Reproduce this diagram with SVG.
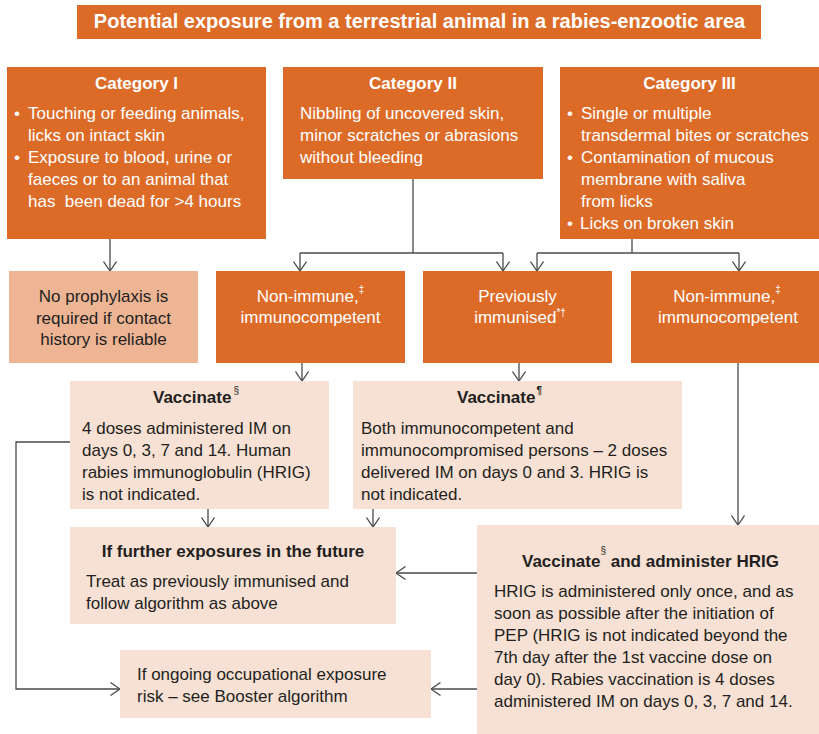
<svg xmlns="http://www.w3.org/2000/svg" width="819" height="734" viewBox="0 0 819 734">
<defs>
<style>
text{font-family:"Liberation Sans",Arial,sans-serif;font-size:17px;}
.o{fill:#DD6B28;}
.p{fill:#F7E1D4;}
.np{fill:#EEB595;}
.w{fill:#ffffff;}
.d{fill:#231F20;}
.b{font-weight:bold;}
.c{text-anchor:middle;}
.sup{font-size:10px;}
.conn path{fill:none;stroke:#4a4a4a;stroke-width:1.3;}
</style>
<marker id="ah" viewBox="0 0 10 14" markerWidth="10" markerHeight="14" refX="10" refY="7" orient="auto" markerUnits="userSpaceOnUse">
<path d="M0.5,0.5 L10,7 L0.5,13.5" fill="none" stroke="#4a4a4a" stroke-width="1.3"/>
</marker>
</defs>
<rect width="819" height="734" fill="#ffffff"/>

<g id="title">
<rect class="o" x="77" y="5" width="684" height="34"/>
<text class="w b c" x="419.5" y="28" style="font-size:20px">Potential exposure from a terrestrial animal in a rabies-enzootic area</text>
</g>

<g id="cat1">
<rect class="o" x="7" y="67" width="259" height="172"/>
<text class="w b c" x="136.5" y="89">Category I</text>
<text class="w" x="14" y="119">•</text>
<text class="w" x="28" y="119">Touching or feeding animals,</text>
<text class="w" x="28" y="141">licks on intact skin</text>
<text class="w" x="14" y="163">•</text>
<text class="w" x="28" y="163">Exposure to blood, urine or</text>
<text class="w" x="28" y="185">faeces or to an animal that</text>
<text class="w" x="28" y="207" xml:space="preserve">has  been dead for &gt;4 hours</text>
</g>

<g id="cat2">
<rect class="o" x="283" y="67" width="260" height="112"/>
<text class="w b c" x="413" y="89">Category II</text>
<text class="w" x="300" y="119">Nibbling of uncovered skin,</text>
<text class="w" x="300" y="141">minor scratches or abrasions</text>
<text class="w" x="300" y="163">without bleeding</text>
</g>

<g id="cat3">
<rect class="o" x="560" y="67" width="259" height="172"/>
<text class="w b c" x="689.5" y="89">Category III</text>
<text class="w" x="567" y="119">•</text>
<text class="w" x="581" y="119">Single or multiple</text>
<text class="w" x="581" y="141">transdermal bites or scratches</text>
<text class="w" x="567" y="163">•</text>
<text class="w" x="581" y="163">Contamination of mucous</text>
<text class="w" x="581" y="185">membrane with saliva</text>
<text class="w" x="581" y="207">from licks</text>
<text class="w" x="567" y="229">•</text>
<text class="w" x="580" y="229">Licks on broken skin</text>
</g>

<g id="noproph">
<rect class="np" x="9" y="271" width="189" height="92"/>
<text class="d c" x="103.5" y="302">No prophylaxis is</text>
<text class="d c" x="103.5" y="323.5">required if contact</text>
<text class="d c" x="103.5" y="345">history is reliable</text>
</g>

<g id="nonimmune1">
<rect class="o" x="216" y="271" width="189" height="92"/>
<text class="w c" x="310.5" y="302">Non-immune,<tspan class="sup" dy="-9">‡</tspan></text>
<text class="w c" x="310.5" y="323">immunocompetent</text>
</g>

<g id="previmm">
<rect class="o" x="423" y="271" width="189" height="92"/>
<text class="w c" x="517.5" y="302">Previously</text>
<text class="w c" x="520" y="323">immunised<tspan class="sup" dy="-7">*†</tspan></text>
</g>

<g id="nonimmune2">
<rect class="o" x="631" y="271" width="188" height="92"/>
<text class="w c" x="727" y="302">Non-immune,<tspan class="sup" dy="-9">‡</tspan></text>
<text class="w c" x="728" y="323">immunocompetent</text>
</g>

<g id="vacc1">
<rect class="p" x="70" y="381" width="259" height="128"/>
<text class="d b" x="153" y="403">Vaccinate<tspan class="sup" style="font-weight:normal" dx="2" dy="-9">§</tspan></text>
<text class="d" x="82" y="434">4 doses administered IM on</text>
<text class="d" x="82" y="456">days 0, 3, 7 and 14. Human</text>
<text class="d" x="82" y="478">rabies immunoglobulin (HRIG)</text>
<text class="d" x="82" y="500">is not indicated.</text>
</g>

<g id="vacc2">
<rect class="p" x="353" y="381" width="329" height="128"/>
<text class="d b" x="457" y="403">Vaccinate<tspan class="sup" dx="1" dy="-9">¶</tspan></text>
<text class="d" x="361" y="434">Both immunocompetent and</text>
<text class="d" x="361" y="456">immunocompromised persons – 2 doses</text>
<text class="d" x="361" y="478">delivered IM on days 0 and 3. HRIG is</text>
<text class="d" x="361" y="500">not indicated.</text>
</g>

<g id="further">
<rect class="p" x="70" y="527" width="326" height="97"/>
<text class="d b c" x="233" y="557">If further exposures in the future</text>
<text class="d" x="86" y="587">Treat as previously immunised and</text>
<text class="d" x="86" y="609">follow algorithm as above</text>
</g>

<g id="ongoing">
<rect class="p" x="120" y="650" width="311" height="68"/>
<text class="d" x="137" y="680">If ongoing occupational exposure</text>
<text class="d" x="137" y="702">risk – see Booster algorithm</text>
</g>

<g id="vacchrig">
<rect class="p" x="477" y="525" width="342" height="209"/>
<text class="d b" x="522" y="567">Vaccinate<tspan class="sup" style="font-weight:normal" dx="0" dy="-13">§</tspan><tspan dy="13"> and administer HRIG</tspan></text>
<text class="d" x="494" y="597">HRIG is administered only once, and as</text>
<text class="d" x="494" y="619">soon as possible after the initiation of</text>
<text class="d" x="494" y="641">PEP (HRIG is not indicated beyond the</text>
<text class="d" x="494" y="663">7th day after the 1st vaccine dose on</text>
<text class="d" x="494" y="685">day 0). Rabies vaccination is 4 doses</text>
<text class="d" x="494" y="707">administered IM on days 0, 3, 7 and 14.</text>
</g>

<g id="connectors" class="conn">
<path d="M110,239 V271" marker-end="url(#ah)"/>
<path d="M413,179 V253"/>
<path d="M300,253 H503"/>
<path d="M300,253 V271" marker-end="url(#ah)"/>
<path d="M503,253 V271" marker-end="url(#ah)"/>
<path d="M632,239 V253"/>
<path d="M537,253 H739"/>
<path d="M537,253 V271" marker-end="url(#ah)"/>
<path d="M739,253 V271" marker-end="url(#ah)"/>
<path d="M302,363 V381" marker-end="url(#ah)"/>
<path d="M519,363 V381" marker-end="url(#ah)"/>
<path d="M738,363 V525" marker-end="url(#ah)"/>
<path d="M208,509 V527" marker-end="url(#ah)"/>
<path d="M373,509 V527" marker-end="url(#ah)"/>
<path d="M477,573 H396" marker-end="url(#ah)"/>
<path d="M477,689 H431" marker-end="url(#ah)"/>
<path d="M70,442 H16 V689 H120" marker-end="url(#ah)"/>
</g>
</svg>
